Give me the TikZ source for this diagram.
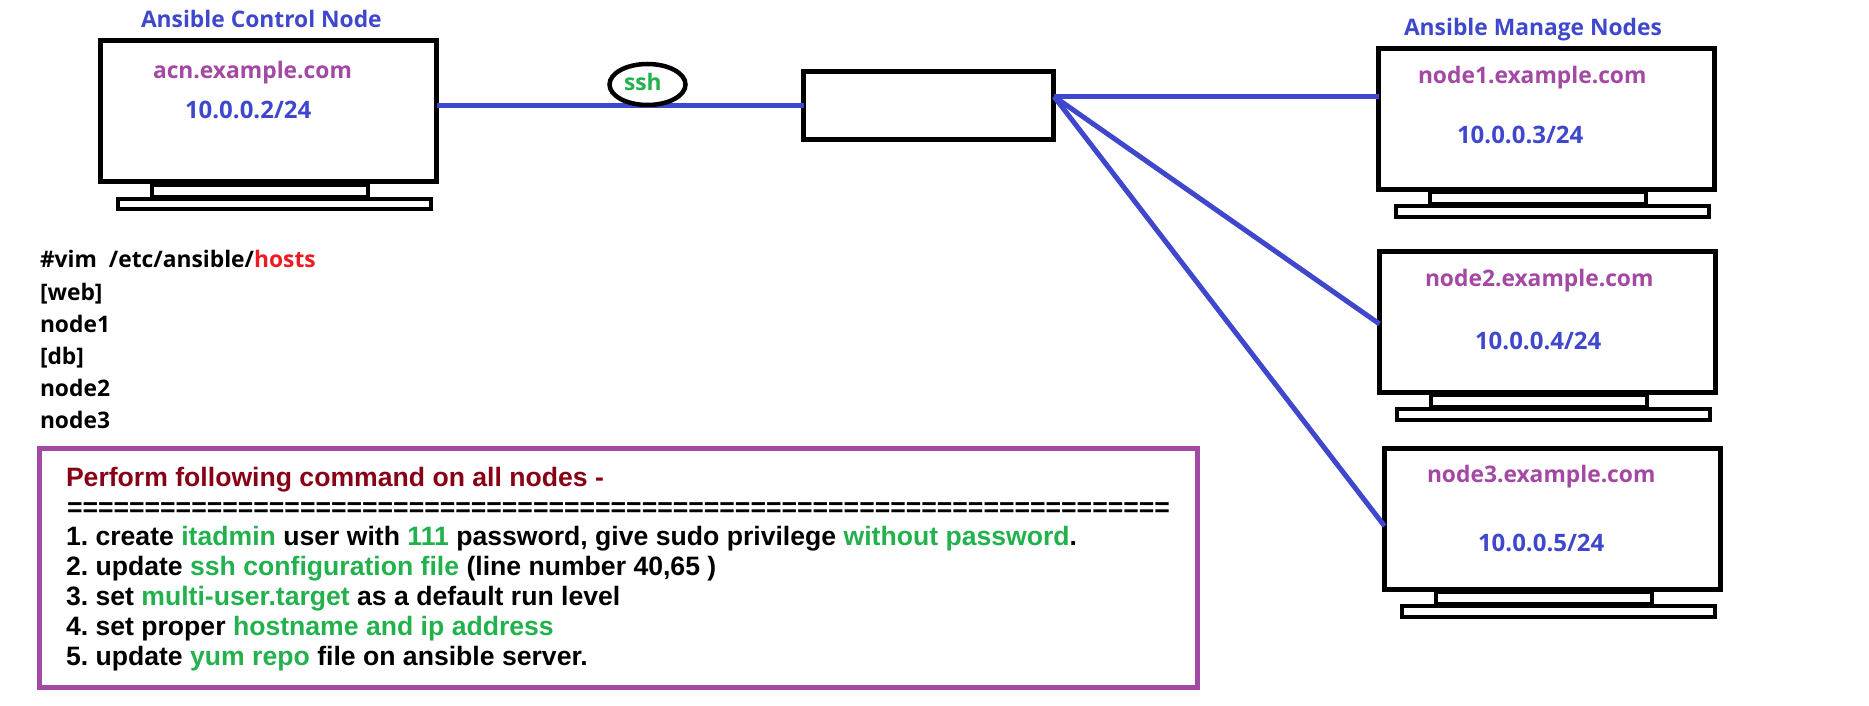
\documentclass[tikz,border=0pt]{standalone}
\usepackage{fontspec}
\setmainfont{Open Sans}[BoldFont={Open Sans Bold}]
\newfontfamily\arialf{Liberation Sans}[BoldFont={Liberation Sans Bold}]
\usetikzlibrary{shapes.geometric}
\definecolor{nblue}{HTML}{3F48CC}
\definecolor{npurple}{HTML}{A349A4}
\definecolor{ngreen}{HTML}{22B14C}
\definecolor{ndark}{HTML}{880015}
\definecolor{nred}{HTML}{ED1C24}
\newcommand{\G}[1]{\textcolor{ngreen}{#1}}
\frenchspacing
\tikzset{
  x=1pt,y=-1pt,
  screen/.style={draw=black,line width=5pt,fill=white,inner sep=0pt,outer sep=0pt},
  stand/.style={draw=black,line width=4.5pt,inner sep=0pt,outer sep=0pt},
  link/.style={draw=nblue,line width=5pt},
  lbl/.style={inner sep=0pt,outer sep=0pt,anchor=base west,font=\bfseries\fontsize{22.8}{27}\selectfont},
  title/.style={lbl,text=nblue},
  host/.style={lbl,text=npurple},
  addr/.style={lbl,text=nblue,font=\bfseries\fontsize{24}{28}\selectfont},
  conf/.style={lbl,text=black},
  task/.style={inner sep=0pt,outer sep=0pt,anchor=base west,font=\arialf\bfseries\fontsize{26.6}{31}\selectfont},
}
\begin{document}
\begin{tikzpicture}
\useasboundingbox (0,0) rectangle (1869,706);
% control node
\node[stand,minimum width=216pt,minimum height=13pt] (cstand) at (260,191) {};
\node[stand,minimum width=313pt,minimum height=10pt] (cbase) at (274.5,204) {};
\node[screen,minimum width=336pt,minimum height=141pt] (ctrl) at (268.5,111) {};
% switch
\node[screen,line width=4.7pt,minimum width=250pt,minimum height=68.5pt] (sw) at (928.5,105.5) {};
% managed nodes
\node[stand,minimum width=216pt,minimum height=12pt] (stand1) at (1538,198) {};
\node[stand,minimum width=313pt,minimum height=11pt] (base1) at (1552.5,211.5) {};
\node[screen,minimum width=336pt,minimum height=141pt] (n1) at (1546.5,119) {};
\node[stand,minimum width=216pt,minimum height=12pt] (stand2) at (1539,401) {};
\node[stand,minimum width=313pt,minimum height=11pt] (base2) at (1553.5,414.5) {};
\node[screen,minimum width=336pt,minimum height=141pt] (n2) at (1547.5,322) {};
\node[stand,minimum width=216pt,minimum height=12pt] (stand3) at (1544,598) {};
\node[stand,minimum width=313pt,minimum height=11pt] (base3) at (1558.5,611.5) {};
\node[screen,minimum width=336pt,minimum height=141pt] (n3) at (1552.5,519) {};
% connection points
\coordinate (swin) at (sw.west);
\coordinate (swout) at (1054,96.5);
\coordinate (c1) at (n1.west |- 0,96.5);
\coordinate (c2) at (n2.west |- 0,324);
\coordinate (c3) at (n3.west |- 0,526);
\draw[link] (ctrl.east |- swin) -- (swin);
\draw[link] (swout) -- (c1);
\draw[link] (swout) -- (c2);
\draw[link] (swout) -- (c3);
% ssh
\node[ellipse,draw=black,line width=4.5pt,fill=white,minimum width=76pt,minimum height=41pt,inner sep=0pt] (sshe) at (647.5,84.5) {};
\node[lbl,text=ngreen] (ssh) at (624,91) {ssh};
% labels
\node[title] (t1) at (141,28) {Ansible Control Node};
\node[title] (t2) at (1404,36) {Ansible Manage Nodes};
\node[host] (h0) at (153,79) {acn.example.com};
\node[addr] (a0) at (185,119) {10.0.0.2/24};
\node[host] (h1) at (1418,84) {node1.example.com};
\node[addr] (a1) at (1457,143) {10.0.0.3/24};
\node[host] (h2) at (1425,286) {node2.example.com};
\node[addr] (a2) at (1475,349) {10.0.0.4/24};
\node[host] (h3) at (1427,482) {node3.example.com};
\node[addr] (a3) at (1478,551) {10.0.0.5/24};
% hosts file
\node[conf] (l0) at (40,267) {\#vim\ \ /etc/ansible/\textcolor{nred}{hosts}};
\node[conf] (l1) at (40,300) {[web]};
\node[conf] (l2) at (40,332) {node1};
\node[conf] (l3) at (40,364) {[db]};
\node[conf] (l4) at (40,396) {node2};
\node[conf] (l5) at (40,428) {node3};
% task box
\node[draw=npurple,line width=5pt,inner sep=0pt,outer sep=0pt,minimum width=1158pt,minimum height=239pt] (tb) at (618.5,568) {};
\node[task,text=ndark] (p0) at (66,486) {Perform following command on all nodes -};
\node[task] (p1) at (67,516) {=======================================================================};
\node[task] (p2) at (66,545) {1. create \G{itadmin} user with \G{111} password, give sudo privilege \G{without password}.};
\node[task] (p3) at (66,575) {2. update \G{ssh configuration file} (line number 40,65 )};
\node[task] (p4) at (66,605) {3. set \G{multi-user.target} as a default run level};
\node[task] (p5) at (66,635) {4. set proper \G{hostname and ip address}};
\node[task] (p6) at (66,665) {5. update \G{yum repo} file on ansible server.};
\end{tikzpicture}
\end{document}
